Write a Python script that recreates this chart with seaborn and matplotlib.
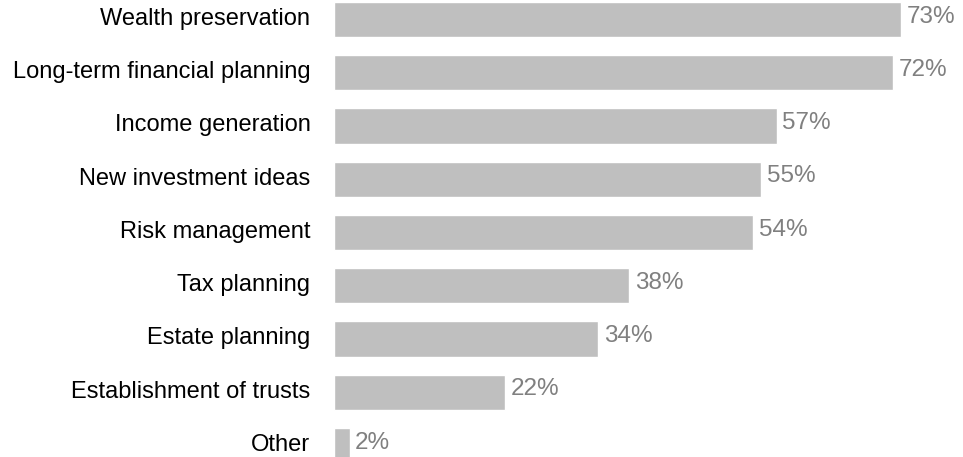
import matplotlib
matplotlib.use("Agg")
import matplotlib.pyplot as plt
import matplotlib.transforms as mtransforms
import seaborn as sns
import pandas as pd

categories = [
    "Wealth preservation",
    "Long-term financial planning",
    "Income generation",
    "New investment ideas",
    "Risk management",
    "Tax planning",
    "Estate planning",
    "Establishment of trusts",
    "Other",
]
values = [73, 72, 57, 55, 54, 38, 34, 22, 2]

df = pd.DataFrame({"category": categories, "value": values})

sns.set_theme(style="white")
plt.rcParams["font.family"] = ["Liberation Sans", "DejaVu Sans"]

fig = plt.figure(figsize=(9.63, 4.57), dpi=100)
ax = fig.add_axes([334 / 963, 0, 1 - 334 / 963, 1])

sns.barplot(data=df, x="value", y="category", color="#BFBFBF", saturation=1,
            width=0.66, ax=ax)

ax.set_xlim(0, 81)
ax.set_ylim(8.216, -0.366)
ax.set_xlabel("")
ax.set_ylabel("")
ax.set_xticks([])
ax.tick_params(axis="y", length=0, pad=17, labelsize=17, labelcolor="#000000")
for s in ax.spines.values():
    s.set_visible(False)

# lift the category labels slightly above the bar centres
lift = mtransforms.ScaledTranslation(0, 3 / 100, fig.dpi_scale_trans)
for lbl in ax.get_yticklabels():
    lbl.set_transform(lbl.get_transform() + lift)

for i, v in enumerate(values):
    ax.annotate(f"{v}%", xy=(v, i), xytext=(4, 2), textcoords="offset points",
                va="center", ha="left", fontsize=17.5, color="#808080")

fig.savefig("out.png", dpi=100)
